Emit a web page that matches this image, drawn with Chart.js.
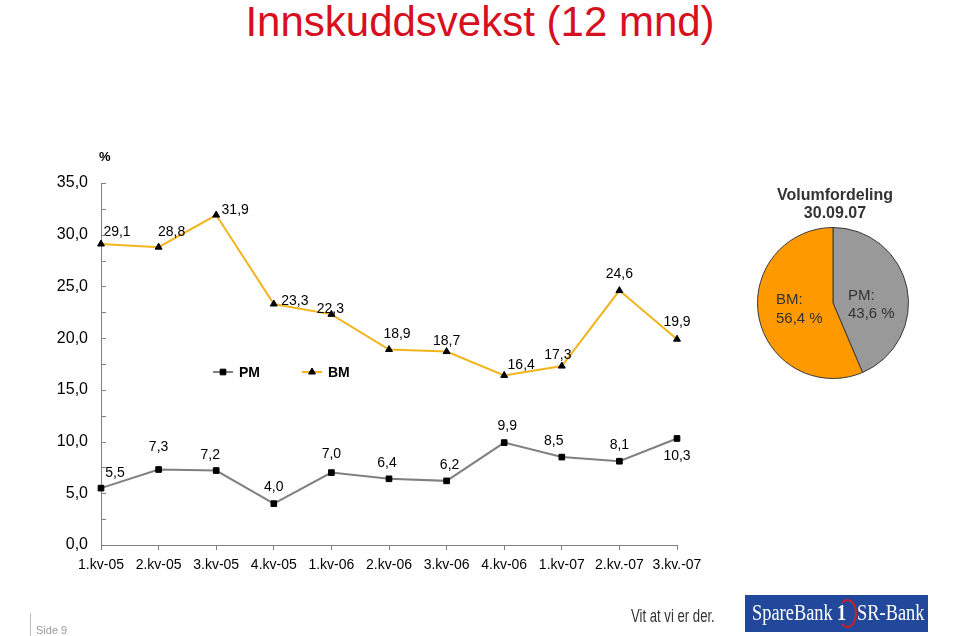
<!DOCTYPE html>
<html><head><meta charset="utf-8">
<script src="https://cdn.jsdelivr.net/npm/chart.js@4"></script>
<style>
html,body{margin:0;padding:0;background:#fff;}
body{width:960px;height:636px;position:relative;overflow:hidden;font-family:"Liberation Sans",Arial,sans-serif;}
#title{position:absolute;left:0;width:960px;top:-2px;text-align:center;color:#d7101f;font-size:42px;line-height:48px;white-space:nowrap;}
#main{position:absolute;left:0;top:0;}
#pie{position:absolute;left:757px;top:227px;}
#pieTitle{position:absolute;left:755px;width:160px;top:186px;text-align:center;font-weight:bold;font-size:16px;line-height:18px;color:#333;}
.pl{position:absolute;font-size:15px;line-height:19px;color:#333;white-space:nowrap;}
#side{position:absolute;left:36px;top:624px;font-size:11px;color:#999;}
#vline{position:absolute;left:30px;top:613px;width:1px;height:23px;background:#bbb;}
#slogan{position:absolute;left:631px;top:606px;font-size:18px;color:#333;white-space:nowrap;transform-origin:0 0;transform:scaleX(0.73);}
#logo{position:absolute;left:745px;top:595px;width:183px;height:37px;background:#21489a;overflow:hidden;}
#logo span{position:absolute;top:4px;font-family:"Liberation Serif",serif;font-size:23px;line-height:28px;color:#fff;white-space:nowrap;transform-origin:0 0;transform:scaleX(0.8);}
#ring{position:absolute;left:838px;top:599px;width:19px;height:29px;border:2px solid #c8202a;border-left-color:transparent;border-radius:50%;box-sizing:border-box;}
</style></head>
<body>
<div id="title">Innskuddsvekst (12 mnd)</div>
<canvas id="main" width="960" height="636"></canvas>
<div id="pieTitle">Volumfordeling<br>30.09.07</div>
<canvas id="pie" width="152" height="152"></canvas>
<div id="plBM" class="pl" style="left:776px;top:289px;"></div>
<div id="plPM" class="pl" style="left:848px;top:286px;line-height:18px;"></div>
<div id="vline"></div>
<div id="side">Side 9</div>
<div id="slogan">Vit at vi er der.</div>
<div id="logo"><span style="left:7px;">SpareBank</span><span style="left:92px;font-weight:bold;">1</span><span style="left:112px;">SR-Bank</span></div>
<div id="ring"></div>
<script>
// ---- data ----
const categories = ["1.kv-05","2.kv-05","3.kv-05","4.kv-05","1.kv-06","2.kv-06","3.kv-06","4.kv-06","1.kv-07","2.kv.-07","3.kv.-07"];
const pmValues = [5.5, 7.3, 7.2, 4.0, 7.0, 6.4, 6.2, 9.9, 8.5, 8.1, 10.3];
const bmValues = [29.1, 28.8, 31.9, 23.3, 22.3, 18.9, 18.7, 16.4, 17.3, 24.6, 19.9];
const seriesNames = ["PM", "BM"];
const pieLabels = ["PM", "BM"];
const pieValues = [43.6, 56.4];
const yMin = 0, yMax = 35, yStep = 2.5, yLabelStep = 5;

// ---- label placement (layout only) ----
const pmLabelOffsets = [[14,-15],[0,-22],[-6,-15],[0,-16],[0,-18],[-2,-16],[3,-16],[3,-16],[-8,-16],[0,-16],[0,18]];
const bmLabelOffsets = [[16,-12],[13,-15],[19,-5],[21,-3],[-1,-5],[8,-15],[0,-10],[17,-10],[-4,-11],[0,-16],[0,-17]];

const fmt = v => v.toFixed(1).replace('.', ',');

Chart.defaults.font.family = '"Liberation Sans", Arial, sans-serif';
Chart.defaults.color = '#000';

const GRAY = '#808080';
const GOLD = '#F2B41E';

const inwardTicks = {
  id: 'inwardTicks',
  afterDraw(chart) {
    const ctx = chart.ctx, y = chart.scales.y;
    ctx.save();
    ctx.strokeStyle = GRAY; ctx.lineWidth = 1;
    y.ticks.forEach(t => {
      const py = Math.round(y.getPixelForValue(t.value)) + 0.5;
      ctx.beginPath(); ctx.moveTo(y.right, py); ctx.lineTo(y.right + 5, py); ctx.stroke();
    });
    ctx.restore();
  }
};

const dataLabels = {
  id: 'dataLabels',
  afterDatasetsDraw(chart) {
    const ctx = chart.ctx;
    ctx.save();
    ctx.font = '14px "Liberation Sans", Arial, sans-serif';
    ctx.fillStyle = '#000'; ctx.textAlign = 'center'; ctx.textBaseline = 'middle';
    chart.data.datasets.forEach((ds, i) => {
      const meta = chart.getDatasetMeta(i);
      meta.data.forEach((pt, j) => {
        const o = ds.labelOffsets[j];
        ctx.fillText(fmt(ds.data[j]), pt.x + o[0], pt.y + o[1]);
      });
    });
    const y = chart.scales.y;
    ctx.font = 'bold 13px "Liberation Sans", Arial, sans-serif';
    ctx.textAlign = 'left';
    ctx.fillText('%', y.right - 2, y.top - 26);
    ctx.restore();
  }
};

const customLegend = {
  id: 'customLegend',
  afterDraw(chart) {
    const ctx = chart.ctx;
    const spots = [[213, 372], [302, 372]];
    ctx.save();
    chart.data.datasets.forEach((ds, i) => {
      const [lx, ly] = spots[i];
      ctx.strokeStyle = ds.borderColor; ctx.lineWidth = 2;
      ctx.beginPath(); ctx.moveTo(lx, ly); ctx.lineTo(lx + 20, ly); ctx.stroke();
      ctx.fillStyle = '#000'; ctx.strokeStyle = '#000'; ctx.lineWidth = 1;
      Chart.helpers.drawPoint(ctx, {pointStyle: ds.pointStyle, radius: ds.pointRadius, borderWidth: 1}, lx + 10, ly);
      ctx.font = 'bold 14px "Liberation Sans", Arial, sans-serif';
      ctx.textAlign = 'left'; ctx.textBaseline = 'middle';
      ctx.fillText(ds.label, lx + 26, ly + 1);
    });
    ctx.restore();
  }
};

new Chart(document.getElementById('main'), {
  type: 'line',
  data: {
    labels: categories,
    datasets: [
      { label: seriesNames[0], data: pmValues, borderColor: GRAY, borderWidth: 2,
        pointStyle: 'rect', pointRadius: 4, pointBackgroundColor: '#000', pointBorderColor: '#000', pointBorderWidth: 1,
        labelOffsets: pmLabelOffsets, tension: 0 },
      { label: seriesNames[1], data: bmValues, borderColor: GOLD, borderWidth: 2,
        pointStyle: 'triangle', pointRadius: 4, pointBackgroundColor: '#000', pointBorderColor: '#000', pointBorderWidth: 1,
        labelOffsets: bmLabelOffsets, tension: 0 }
    ]
  },
  options: {
    responsive: false, animation: false, devicePixelRatio: 1,
    layout: { padding: { left: 0, top: 183, right: 283, bottom: 61 } },
    plugins: { legend: { display: false }, tooltip: { enabled: false }, title: { display: false } },
    scales: {
      x: {
        offset: false,
        grid: { display: true, drawOnChartArea: false, drawTicks: true, tickLength: 5, color: GRAY },
        border: { display: true, color: GRAY, width: 1 },
        ticks: { font: { size: 14 }, color: '#000', padding: 7, maxRotation: 0, autoSkip: false },
        afterFit(s) { s.height = 30; }
      },
      y: {
        min: yMin, max: yMax,
        grid: { display: false, drawTicks: false },
        border: { display: true, color: GRAY, width: 1 },
        ticks: { stepSize: yStep, font: { size: 16 }, color: '#000', padding: 13,
          callback: v => (Math.abs(v % yLabelStep) < 1e-9 ? fmt(v) : '') },
        afterFit(s) { s.width = 101; }
      }
    }
  },
  plugins: [inwardTicks, dataLabels, customLegend]
});

new Chart(document.getElementById('pie'), {
  type: 'pie',
  data: {
    labels: pieLabels,
    datasets: [{ data: pieValues, backgroundColor: ['#999999', '#FF9900'], borderColor: '#3a3a3a', borderWidth: 1 }]
  },
  options: {
    responsive: false, animation: false, devicePixelRatio: 1,
    layout: { padding: 0 },
    plugins: { legend: { display: false }, tooltip: { enabled: false } }
  }
});

document.getElementById('plPM').innerHTML = pieLabels[0] + ':<br>' + fmt(pieValues[0]) + ' %';
document.getElementById('plBM').innerHTML = pieLabels[1] + ':<br>' + fmt(pieValues[1]) + ' %';
</script>
</body></html>
